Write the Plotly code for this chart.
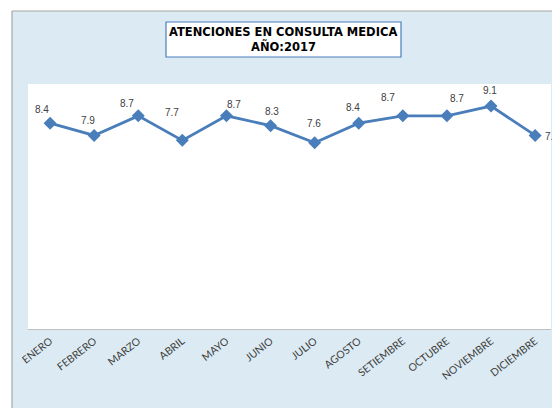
import plotly.graph_objects as go

months = ["ENERO", "FEBRERO", "MARZO", "ABRIL", "MAYO", "JUNIO", "JULIO",
          "AGOSTO", "SETIEMBRE", "OCTUBRE", "NOVIEMBRE", "DICIEMBRE"]
atenciones = [8.4, 7.9, 8.7, 7.7, 8.7, 8.3, 7.6, 8.4, 8.7, 8.7, 9.1, 7.9]

title_lines = ["ATENCIONES EN CONSULTA MEDICA", "AÑO:2017"]

# pixel nudges for the data labels (dx, dy), as placed in the original
LABEL_SHIFT = [(-8, 14), (-6, 15), (-11, 12), (-10, 28), (8, 11), (1, 14),
               (-1, 19), (-6, 16), (-15, 18), (10, 17), (-1, 16), (17, -1)]

LINE_COLOR = "#4A7EBB"
PANEL_BG = "#DCEBF3"
BORDER = "#A6A6A6"

fig = go.Figure()
fig.add_trace(go.Scatter(
    x=months, y=atenciones,
    mode="lines+markers",
    line=dict(color=LINE_COLOR, width=2.8),
    marker=dict(symbol="diamond", size=10, color=LINE_COLOR),
    hoverinfo="x+y",
))

for m, v, (dx, dy) in zip(months, atenciones, LABEL_SHIFT):
    fig.add_annotation(
        x=m, y=v, text=f"{v:.1f}", showarrow=False,
        xshift=dx, yshift=dy,
        font=dict(family="Liberation Sans", size=10, color="#404040"),
    )

# title box and its two lines
fig.add_shape(type="rect", xref="paper", yref="paper", layer="below",
              x0=0.2639, x1=0.7132, y0=1.1102, y1=1.2531,
              fillcolor="white", line=dict(color=LINE_COLOR, width=1.2))
for line_text, ty in zip(title_lines, [1.2122, 1.1551]):
    fig.add_annotation(
        x=0.4885, y=ty, xref="paper", yref="paper",
        xanchor="center", yanchor="middle",
        text=f"<b>{line_text}</b>", showarrow=False,
        font=dict(family="DejaVu Sans", size=11.5, color="#000000"),
    )

# white strips above and left of the chart panel, plus its grey border
fig.add_shape(type="rect", xref="paper", yref="paper", layer="below",
              x0=-0.1, x1=1.1, y0=1.298, y1=1.4, fillcolor="white", line_width=0)
fig.add_shape(type="rect", xref="paper", yref="paper", layer="below",
              x0=-0.1, x1=-0.0306, y0=-0.4, y1=1.4, fillcolor="white", line_width=0)
fig.add_shape(type="line", xref="paper", yref="paper", layer="below",
              x0=-0.0306, x1=-0.0306, y0=-0.4, y1=1.298, line=dict(color=BORDER, width=1.2))
fig.add_shape(type="line", xref="paper", yref="paper", layer="below",
              x0=-0.0306, x1=1.1, y0=1.298, y1=1.298, line=dict(color=BORDER, width=1.2))

fig.update_layout(
    width=560, height=408,
    showlegend=False,
    hovermode="closest",
    paper_bgcolor=PANEL_BG,
    plot_bgcolor="white",
    margin=dict(l=20, r=17, t=76, b=87),
    xaxis=dict(range=[-0.5, 11.36], showgrid=False, zeroline=False,
               showline=True, linecolor="#BFBFBF", linewidth=1,
               ticks="", tickangle=-38, ticklabelstandoff=1,
               tickfont=dict(family="Lato", size=10.5, color="#404040")),
    yaxis=dict(range=[0, 10], showgrid=False, zeroline=False,
               showticklabels=False, showline=False),
)

fig.write_html("out.html")
